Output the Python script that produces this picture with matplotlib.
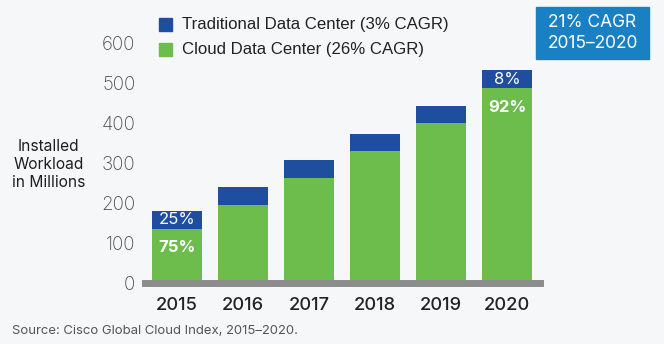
import matplotlib
matplotlib.use("Agg")
import matplotlib.pyplot as plt
from matplotlib.patches import Rectangle
import numpy as np

# Installed workloads (millions) by data center type
years = ["2015", "2016", "2017", "2018", "2019", "2020"]
cloud = [136, 196, 264, 331, 401, 488]
traditional = [45, 44, 44, 43, 43, 45]
series_labels = ["Traditional Data Center (3% CAGR)", "Cloud Data Center (26% CAGR)"]
y_ticks = [0, 100, 200, 300, 400, 500, 600]
share_labels = {0: ("25%", "75%"), 5: ("8%", "92%")}

W, H = 664, 344
BG = "#f6f7f9"
BLUE = "#1f4e9f"
GREEN = "#6cbd4b"
CAGR_BLUE = "#1a80c4"

plt.rcParams["font.family"] = ["Inter", "DejaVu Sans"]
LEGEND_FONT = ["Liberation Sans", "DejaVu Sans"]

fig = plt.figure(figsize=(W / 100, H / 100), dpi=100, facecolor=BG)


def fx(x):
    return x / W


def fy(y):
    return 1 - y / H


ax = fig.add_axes([fx(145), fy(283.3), fx(540) - fx(145), fy(43.3) - fy(283.3)])
ax.set_facecolor(BG)

x = np.arange(len(years))
ax.bar(x, cloud, width=0.76, color=GREEN, zorder=2)
ax.bar(x, traditional, bottom=cloud, width=0.76, color=BLUE, zorder=2)

# grey baseline under the bars
ax.axhline(0, color="#8c8c8c", linewidth=5.0, zorder=3, clip_on=False)

ax.set_xlim(-0.485, 5.5)
ax.set_ylim(0, 600)
ax.set_yticks(y_ticks)
ax.set_yticklabels([str(v) for v in y_ticks], fontsize=13.5, color="#4a4a4a",
                   fontweight="light")
ax.set_xticks(x)
ax.set_xticklabels(years, fontsize=13.2, color="#222222", fontweight="medium")
ax.tick_params(axis="both", length=0)
ax.tick_params(axis="y", pad=7)
ax.tick_params(axis="x", pad=10)
for s in ax.spines.values():
    s.set_visible(False)

# share labels inside the first and last bars
for i, (trad_txt, cloud_txt) in share_labels.items():
    ax.text(x[i], cloud[i] + traditional[i] / 2, trad_txt, ha="center", va="center",
            color="white", fontsize=12, zorder=4)
    ax.annotate(cloud_txt, (x[i], cloud[i]), xytext=(0, -13.7), textcoords="offset points",
                ha="center", va="center", color="white", fontsize=12,
                fontweight="bold", zorder=4)

# legend
for row, (label, col) in enumerate(zip(series_labels, [BLUE, GREEN])):
    yc = 24.3 + 25 * row
    fig.patches.append(Rectangle((fx(159), fy(yc + 6.3)), fx(12.7), 12.7 / H,
                                 transform=fig.transFigure, color=col, figure=fig))
    fig.text(fx(182), fy(yc), label, ha="left", va="center", fontsize=12.1,
             color="#222222", family=LEGEND_FONT)

# y-axis title
fig.text(fx(48.7), fy(164.5), "Installed\nWorkload\nin Millions", ha="center",
         va="center", fontsize=11.2, color="#1e1e1e", linespacing=1.25)

# CAGR box
fig.patches.append(Rectangle((fx(536), fy(59)), fx(113), 52 / H,
                             transform=fig.transFigure, color=CAGR_BLUE, figure=fig))
fig.text(fx(592.5), fy(33.3), "21% CAGR\n2015\u20132020", ha="center", va="center",
         fontsize=12.5, color="white", linespacing=1.3)

# source note
fig.text(fx(12), fy(331), "Source: Cisco Global Cloud Index, 2015\u20132020.",
         ha="left", va="center", fontsize=9.45, color="#555555")

fig.savefig("out.png", dpi=100, facecolor=BG)
